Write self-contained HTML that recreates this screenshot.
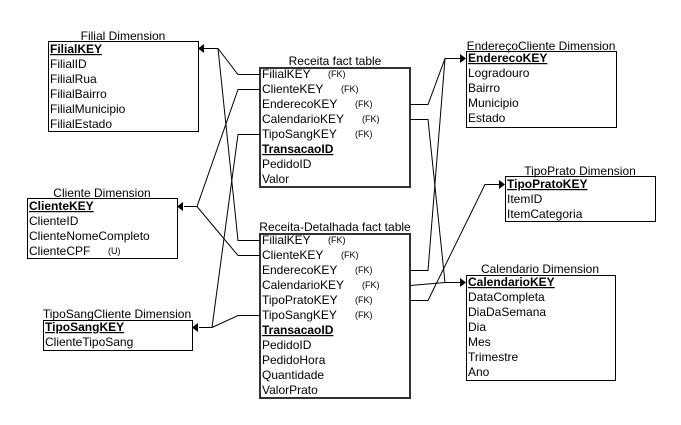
<!DOCTYPE html>
<html><head><meta charset="utf-8"><style>
html,body{margin:0;padding:0;background:#fff;width:681px;height:425px;overflow:hidden}
svg text{font-family:"Liberation Sans",sans-serif;font-size:12px;fill:#000}
.t{font-size:12px}
.fk{font-size:9px}
.k{font-weight:bold;text-decoration:underline}
</style></head><body>
<svg width="681" height="425" viewBox="0 0 681 425" xmlns="http://www.w3.org/2000/svg">
<g fill="none" stroke="#000" stroke-width="1">
<!-- boxes -->
<rect x="48.5" y="41.5" width="150" height="90"/>
<rect x="27.5" y="198.5" width="150" height="60"/>
<rect x="43.5" y="320.5" width="149" height="30"/>
<rect x="466.5" y="51.5" width="150" height="76"/>
<rect x="505.5" y="176.5" width="150" height="45"/>
<rect x="466.5" y="275.5" width="149" height="105"/>
</g>
<g fill="none" stroke="#333" stroke-width="2">
<rect x="260" y="68" width="150" height="119"/>
<rect x="260" y="234" width="150" height="164"/>
</g>
<g fill="none" stroke="#000" stroke-width="1">
<!-- left connectors -->
<polyline points="204,48.5 218,48.5 238,74.5 260,74.5"/>
<polyline points="218,48.5 238,240.5 260,240.5"/>
<polyline points="184,206.5 197,206.5 238,89.5 260,89.5"/>
<polyline points="197,206.5 238,255.5 260,255.5"/>
<polyline points="199,327.5 212,327.5 238,134.5 260,134.5"/>
<polyline points="212,327.5 238,315.5 260,315.5"/>
<!-- right connectors -->
<polyline points="410,104.5 428,104.5 445,58.5 460,58.5"/>
<polyline points="410,270.5 428,270.5 445,58.5"/>
<polyline points="410,119.5 428,119.5 445,282.5"/>
<polyline points="410,285.5 445,282.5 460,282.5"/>
<polyline points="410,300.5 428,300.5 485,184.5 499,184.5"/>
</g>
<g fill="#000">
<polygon points="198,48.5 204,44 204,53"/>
<polygon points="177,206.5 183,202 183,211"/>
<polygon points="192,327.5 198,323 198,332"/>
<polygon points="466,58.5 460,54 460,63"/>
<polygon points="466,282.5 460,278 460,287"/>
<polygon points="505,184.5 499,180 499,189"/>
</g>
<!-- titles -->
<text x="123" y="40" text-anchor="middle">Filial Dimension</text>
<text x="335" y="65" text-anchor="middle">Receita fact table</text>
<text x="541" y="50" text-anchor="middle">EndereçoCliente Dimension</text>
<text x="580" y="175" text-anchor="middle">TipoPrato Dimension</text>
<text x="102" y="197" text-anchor="middle">Cliente Dimension</text>
<text x="335" y="231" text-anchor="middle">Receita-Detalhada fact table</text>
<text x="540" y="273" text-anchor="middle">Calendario Dimension</text>
<text x="117" y="318" text-anchor="middle">TipoSangCliente Dimension</text>
<!-- Filial -->
<text x="50" y="53" class="k">FilialKEY</text>
<text x="50" y="68">FilialID</text>
<text x="50" y="83">FilialRua</text>
<text x="50" y="98">FilialBairro</text>
<text x="50" y="113">FilialMunicipio</text>
<text x="50" y="128">FilialEstado</text>
<!-- Cliente -->
<text x="29" y="210" class="k">ClienteKEY</text>
<text x="29" y="225">ClienteID</text>
<text x="29" y="240">ClienteNomeCompleto</text>
<text x="29" y="255">ClienteCPF</text>
<text x="108" y="254" class="fk">(U)</text>
<!-- TipoSang -->
<text x="45" y="331" class="k">TipoSangKEY</text>
<text x="45" y="346">ClienteTipoSang</text>
<!-- Receita -->
<text x="262" y="78">FilialKEY</text><text x="328" y="77" class="fk">(FK)</text>
<text x="262" y="93">ClienteKEY</text><text x="341" y="92" class="fk">(FK)</text>
<text x="262" y="108">EnderecoKEY</text><text x="355" y="107" class="fk">(FK)</text>
<text x="262" y="123">CalendarioKEY</text><text x="362" y="122" class="fk">(FK)</text>
<text x="262" y="138">TipoSangKEY</text><text x="355" y="137" class="fk">(FK)</text>
<text x="262" y="153" class="k">TransacaoID</text>
<text x="262" y="168">PedidoID</text>
<text x="262" y="183">Valor</text>
<!-- Detalhada -->
<text x="262" y="244">FilialKEY</text><text x="328" y="243" class="fk">(FK)</text>
<text x="262" y="259">ClienteKEY</text><text x="341" y="258" class="fk">(FK)</text>
<text x="262" y="274">EnderecoKEY</text><text x="355" y="273" class="fk">(FK)</text>
<text x="262" y="289">CalendarioKEY</text><text x="362" y="288" class="fk">(FK)</text>
<text x="262" y="304">TipoPratoKEY</text><text x="355" y="303" class="fk">(FK)</text>
<text x="262" y="319">TipoSangKEY</text><text x="355" y="318" class="fk">(FK)</text>
<text x="262" y="334" class="k">TransacaoID</text>
<text x="262" y="349">PedidoID</text>
<text x="262" y="364">PedidoHora</text>
<text x="262" y="379">Quantidade</text>
<text x="262" y="394">ValorPrato</text>
<!-- Endereco -->
<text x="468" y="62" class="k">EnderecoKEY</text>
<text x="468" y="77">Logradouro</text>
<text x="468" y="92">Bairro</text>
<text x="468" y="107">Municipio</text>
<text x="468" y="122">Estado</text>
<!-- TipoPrato -->
<text x="507" y="188" class="k">TipoPratoKEY</text>
<text x="507" y="203">ItemID</text>
<text x="507" y="218">ItemCategoria</text>
<!-- Calendario -->
<text x="468" y="286" class="k">CalendarioKEY</text>
<text x="468" y="301">DataCompleta</text>
<text x="468" y="316">DiaDaSemana</text>
<text x="468" y="331">Dia</text>
<text x="468" y="346">Mes</text>
<text x="468" y="361">Trimestre</text>
<text x="468" y="376">Ano</text>
</svg>
</body></html>
